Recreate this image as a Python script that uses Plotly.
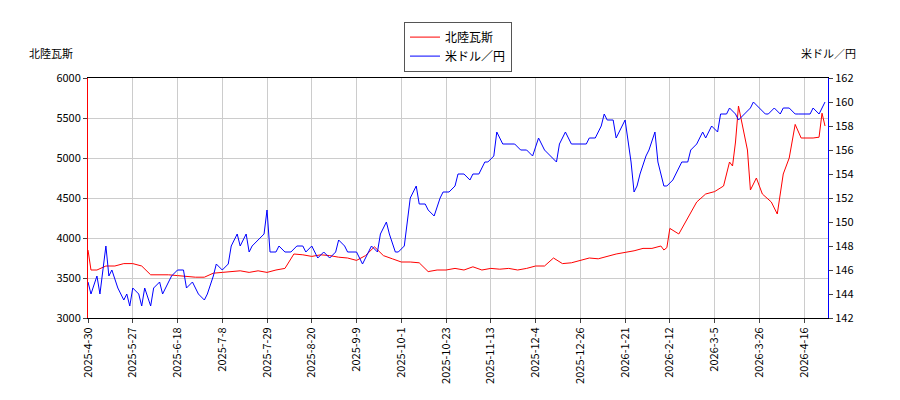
import plotly.graph_objects as go

tick_labels = ["2025-4-30","2025-5-27","2025-6-18","2025-7-8","2025-7-29","2025-8-20","2025-9-9","2025-10-1","2025-10-23","2025-11-13","2025-12-4","2025-12-26","2026-1-21","2026-2-12","2026-3-5","2026-3-26","2026-4-16"]
tick_days = [i*15 for i in range(len(tick_labels))]

red_days = [0,1,3,6,9,12,15,18,21,24,27,30,33,36,39,42,45,48,51,54,57,60,63,66,69,72,75,78,81,84,87,90,93,96,99,102,105,108,111,114,117,120,123,126,129,132,135,138,141,144,147,150,153,156,159,162,165,168,171,174,177,180,183,186,189,192,193,194,195,198,201,204,207,210,213,215,216,217,218,220,221,222,224,226,229,231,233,235,237,239,241,243,245,246,247]
red_vals = [3850,3600,3600,3650,3650,3680,3680,3650,3540,3540,3540,3530,3520,3510,3510,3560,3570,3580,3590,3570,3590,3570,3600,3620,3800,3790,3770,3790,3780,3760,3750,3720,3780,3890,3780,3740,3700,3700,3690,3580,3600,3600,3620,3600,3640,3600,3620,3610,3620,3600,3620,3650,3650,3750,3680,3690,3720,3750,3740,3770,3800,3820,3840,3870,3870,3900,3850,3880,4120,4050,4250,4450,4550,4580,4650,4950,4900,5200,5650,5300,5100,4600,4750,4550,4450,4300,4800,5000,5420,5250,5250,5250,5260,5560,5400]

blue_days = [0,1,3,4,5,6,7,8,10,12,13,14,15,17,18,19,21,22,24,25,27,28,30,32,33,35,37,39,40,42,43,45,47,48,50,51,53,54,55,57,59,60,61,63,64,66,68,70,72,73,75,77,79,81,83,84,86,87,89,90,92,93,95,97,98,100,101,103,104,106,107,108,110,111,113,114,116,118,119,121,123,124,126,128,129,131,133,134,136,137,139,141,143,145,147,149,151,153,155,157,158,160,162,163,165,167,168,170,172,173,174,176,177,179,180,182,183,184,185,187,188,190,191,193,194,196,197,199,201,202,204,206,207,209,211,212,214,215,217,218,220,222,223,225,227,228,230,232,233,235,237,238,240,242,243,245,247]
blue_vals = [145,144,145.5,144,146,148,145.5,146,144.5,143.5,144,143,144.5,144,143,144.5,143,144.5,145,144,145,145.5,146,146,144.5,145,144,143.5,144,145.5,146.5,146,146.5,148,149,148,149,147.5,148,148.5,149,151,147.5,147.5,148,147.5,147.5,148,148,147.5,148,147,147.5,147,147.5,148.5,148,147.5,147.5,147.5,146.5,147,148,147.5,149,150,149,147.5,147.5,148,150,152,153,151.5,151.5,151,150.5,152,152.5,152.5,153,154,154,153.5,154,154,155,155,155.5,157.5,156.5,156.5,156.5,156,156,155.5,157,156,155.5,155,156.5,157.5,156.5,156.5,156.5,156.5,157,157,158,159,158.5,158.5,157,158,158.5,155,152.5,153,154,155.5,156,157.5,155,153,153,153.5,154,155,155,156,156.5,157.5,157,158,157.5,159,159,159.5,159,158.5,159,159.5,160,159.5,159,159,159.5,159,159.5,159.5,159,159,159,159,159.5,159,160]

font = "Noto Sans CJK JP"
fig = go.Figure()
fig.add_trace(go.Scatter(x=red_days, y=red_vals, name="北陸瓦斯", mode="lines", line=dict(color="red", width=1)))
fig.add_trace(go.Scatter(x=blue_days, y=blue_vals, name="米ドル／円", mode="lines", line=dict(color="blue", width=1), yaxis="y2"))

fig.update_layout(
    width=900, height=400, margin=dict(l=80, r=80, t=70, b=90, autoexpand=False),
    plot_bgcolor="white", paper_bgcolor="white",
    font=dict(family=font, size=11, color="black"),
    xaxis=dict(range=[0, 248], tickvals=tick_days, ticktext=tick_labels, tickangle=-90,
               showgrid=True, gridcolor="#cccccc", showline=True, linecolor="black", mirror=True,
               ticks="outside", ticklen=4, zeroline=False, automargin=False),
    yaxis=dict(range=[3000, 6000], dtick=500, showgrid=True, gridcolor="#cccccc", showline=True,
               linecolor="red", ticks="outside", ticklen=4, zeroline=False, automargin=False),
    yaxis2=dict(range=[142, 162], dtick=2, overlaying="y", side="right", showgrid=False,
                showline=True, linecolor="blue", ticks="outside", ticklen=4, zeroline=False, automargin=False),
    legend=dict(x=0.5, xanchor="center", y=1.235, yanchor="top",
                bordercolor="#555555", borderwidth=1, bgcolor="white", font=dict(size=12)),
    annotations=[
        dict(text="北陸瓦斯", xref="paper", yref="paper", x=-0.082, y=1.105, xanchor="left", yanchor="middle", showarrow=False, font=dict(size=11)),
        dict(text="米ドル／円", xref="paper", yref="paper", x=1.041, y=1.105, xanchor="right", yanchor="middle", showarrow=False, font=dict(size=11)),
    ],
)
fig.write_html("out.html")
